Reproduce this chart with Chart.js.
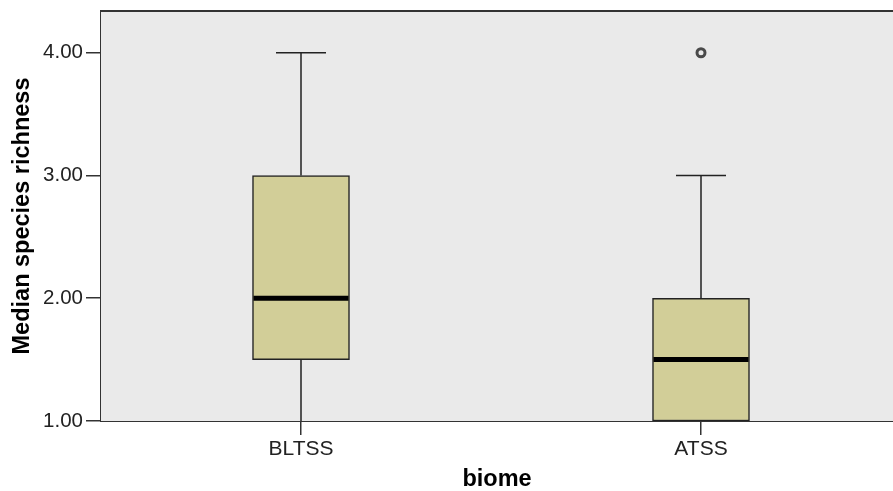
<!DOCTYPE html>
<html>
<head>
<meta charset="utf-8">
<script src="https://cdn.jsdelivr.net/npm/chart.js@4"></script>
<style>
  html, body { margin: 0; padding: 0; background: #fff; overflow: hidden; }
  canvas { display: block; }
</style>
</head>
<body>
<canvas id="box" width="893" height="491"></canvas>
<script>
// boxplot data
const categories = ['BLTSS', 'ATSS'];
const catPos = [1, 2];
const whiskerLow = [1.0, 1.0];
const q1 = [1.5, 1.0];
const median = [2.0, 1.5];
const q3 = [3.0, 2.0];
const whiskerHigh = [4.0, 3.0];
const outlierCat = [2];
const outlierVal = [4.0];
const yTicks = [1, 2, 3, 4];

const FONT = "'Liberation Sans', Arial, sans-serif";
const ink = '#222';

// plot background + top frame line
const frame = {
    id: 'frame',
    beforeDatasetsDraw(chart) {
        const { ctx, chartArea: a } = chart;
        ctx.save();
        ctx.fillStyle = '#EAEAEA';
        ctx.fillRect(a.left, a.top, a.right - a.left, a.bottom - a.top);
        ctx.restore();
    },
    afterDraw(chart) {
        const { ctx, chartArea: a } = chart;
        ctx.save();
        ctx.strokeStyle = '#333';
        ctx.lineWidth = 2;
        ctx.beginPath();
        ctx.moveTo(a.left - 1, a.top);
        ctx.lineTo(a.right, a.top);
        ctx.stroke();
        ctx.restore();
    }
};

// whiskers, caps and medians drawn through the scales
const boxParts = {
    id: 'boxParts',
    afterDatasetsDraw(chart) {
        const { ctx, scales: { x, y } } = chart;
        const halfBox = 48.5, halfCap = 25;
        ctx.save();
        ctx.strokeStyle = ink;
        ctx.lineWidth = 1.5;
        catPos.forEach((c, i) => {
            const px = x.getPixelForValue(c);
            ctx.beginPath();
            ctx.moveTo(px, y.getPixelForValue(q3[i]));
            ctx.lineTo(px, y.getPixelForValue(whiskerHigh[i]));
            ctx.moveTo(px - halfCap, y.getPixelForValue(whiskerHigh[i]));
            ctx.lineTo(px + halfCap, y.getPixelForValue(whiskerHigh[i]));
            if (whiskerLow[i] < q1[i]) {
                ctx.moveTo(px, y.getPixelForValue(q1[i]));
                ctx.lineTo(px, y.getPixelForValue(whiskerLow[i]));
            }
            ctx.stroke();
        });
        ctx.strokeStyle = '#000';
        ctx.lineWidth = 5;
        catPos.forEach((c, i) => {
            const px = x.getPixelForValue(c);
            const py = y.getPixelForValue(median[i]);
            ctx.beginPath();
            ctx.moveTo(px - halfBox + 1, py);
            ctx.lineTo(px + halfBox - 1, py);
            ctx.stroke();
        });
        ctx.restore();
    }
};

new Chart(document.getElementById('box'), {
    type: 'bar',
    data: {
        datasets: [
            {
                label: 'box',
                data: catPos.map((c, i) => ({ x: c, y: [q1[i], q3[i]] })),
                backgroundColor: '#D2CE98',
                borderColor: ink,
                borderWidth: 1.5,
                borderSkipped: false,
                barThickness: 97
            },
            {
                type: 'scatter',
                label: 'outliers',
                data: outlierCat.map((c, i) => ({ x: c, y: outlierVal[i] })),
                pointStyle: 'circle',
                radius: 4,
                borderWidth: 3,
                borderColor: '#4a4a4a',
                backgroundColor: '#EAEAEA'
            }
        ]
    },
    options: {
        responsive: false,
        animation: false,
        events: [],
        layout: { autoPadding: false, padding: { top: 11, right: 0, left: 0, bottom: 0 } },
        plugins: { legend: { display: false }, tooltip: { enabled: false } },
        scales: {
            x: {
                type: 'linear',
                min: 0.5,
                max: 2.48,
                offset: false,
                afterBuildTicks: s => { s.ticks = catPos.map(v => ({ value: v })); },
                afterFit: s => { s.height = 70; s.paddingLeft = 0; s.paddingRight = 0; },
                ticks: {
                    callback: v => categories[catPos.indexOf(v)] || '',
                    color: ink,
                    font: { family: FONT, size: 21 },
                    padding: 2,
                    maxRotation: 0
                },
                grid: { offset: false, drawOnChartArea: false, drawTicks: true, tickLength: 14, color: '#333', lineWidth: 1.5 },
                border: { display: true, color: '#333', width: 2 },
                title: {
                    display: true,
                    text: 'biome',
                    color: '#000',
                    font: { family: FONT, size: 23.5, weight: 'bold', lineHeight: 1 },
                    padding: { top: 0, bottom: 0 }
                }
            },
            y: {
                min: 1,
                max: 4.34,
                afterBuildTicks: s => { s.ticks = yTicks.map(v => ({ value: v })); },
                afterFit: s => { s.width = 101; s.paddingTop = 0; s.paddingBottom = 0; },
                ticks: {
                    callback: v => Number(v).toFixed(2),
                    color: ink,
                    font: { family: FONT, size: 20.5 },
                    padding: 3
                },
                grid: { drawOnChartArea: false, drawTicks: true, tickLength: 15, color: '#333', lineWidth: 1.5 },
                border: { display: true, color: '#333', width: 2 },
                title: {
                    display: true,
                    text: 'Median species richness',
                    color: '#000',
                    font: { family: FONT, size: 23.5, weight: 'bold', lineHeight: 1 },
                    padding: { top: 11, bottom: 0 }
                }
            }
        }
    },
    plugins: [frame, boxParts]
});
</script>
</body>
</html>
